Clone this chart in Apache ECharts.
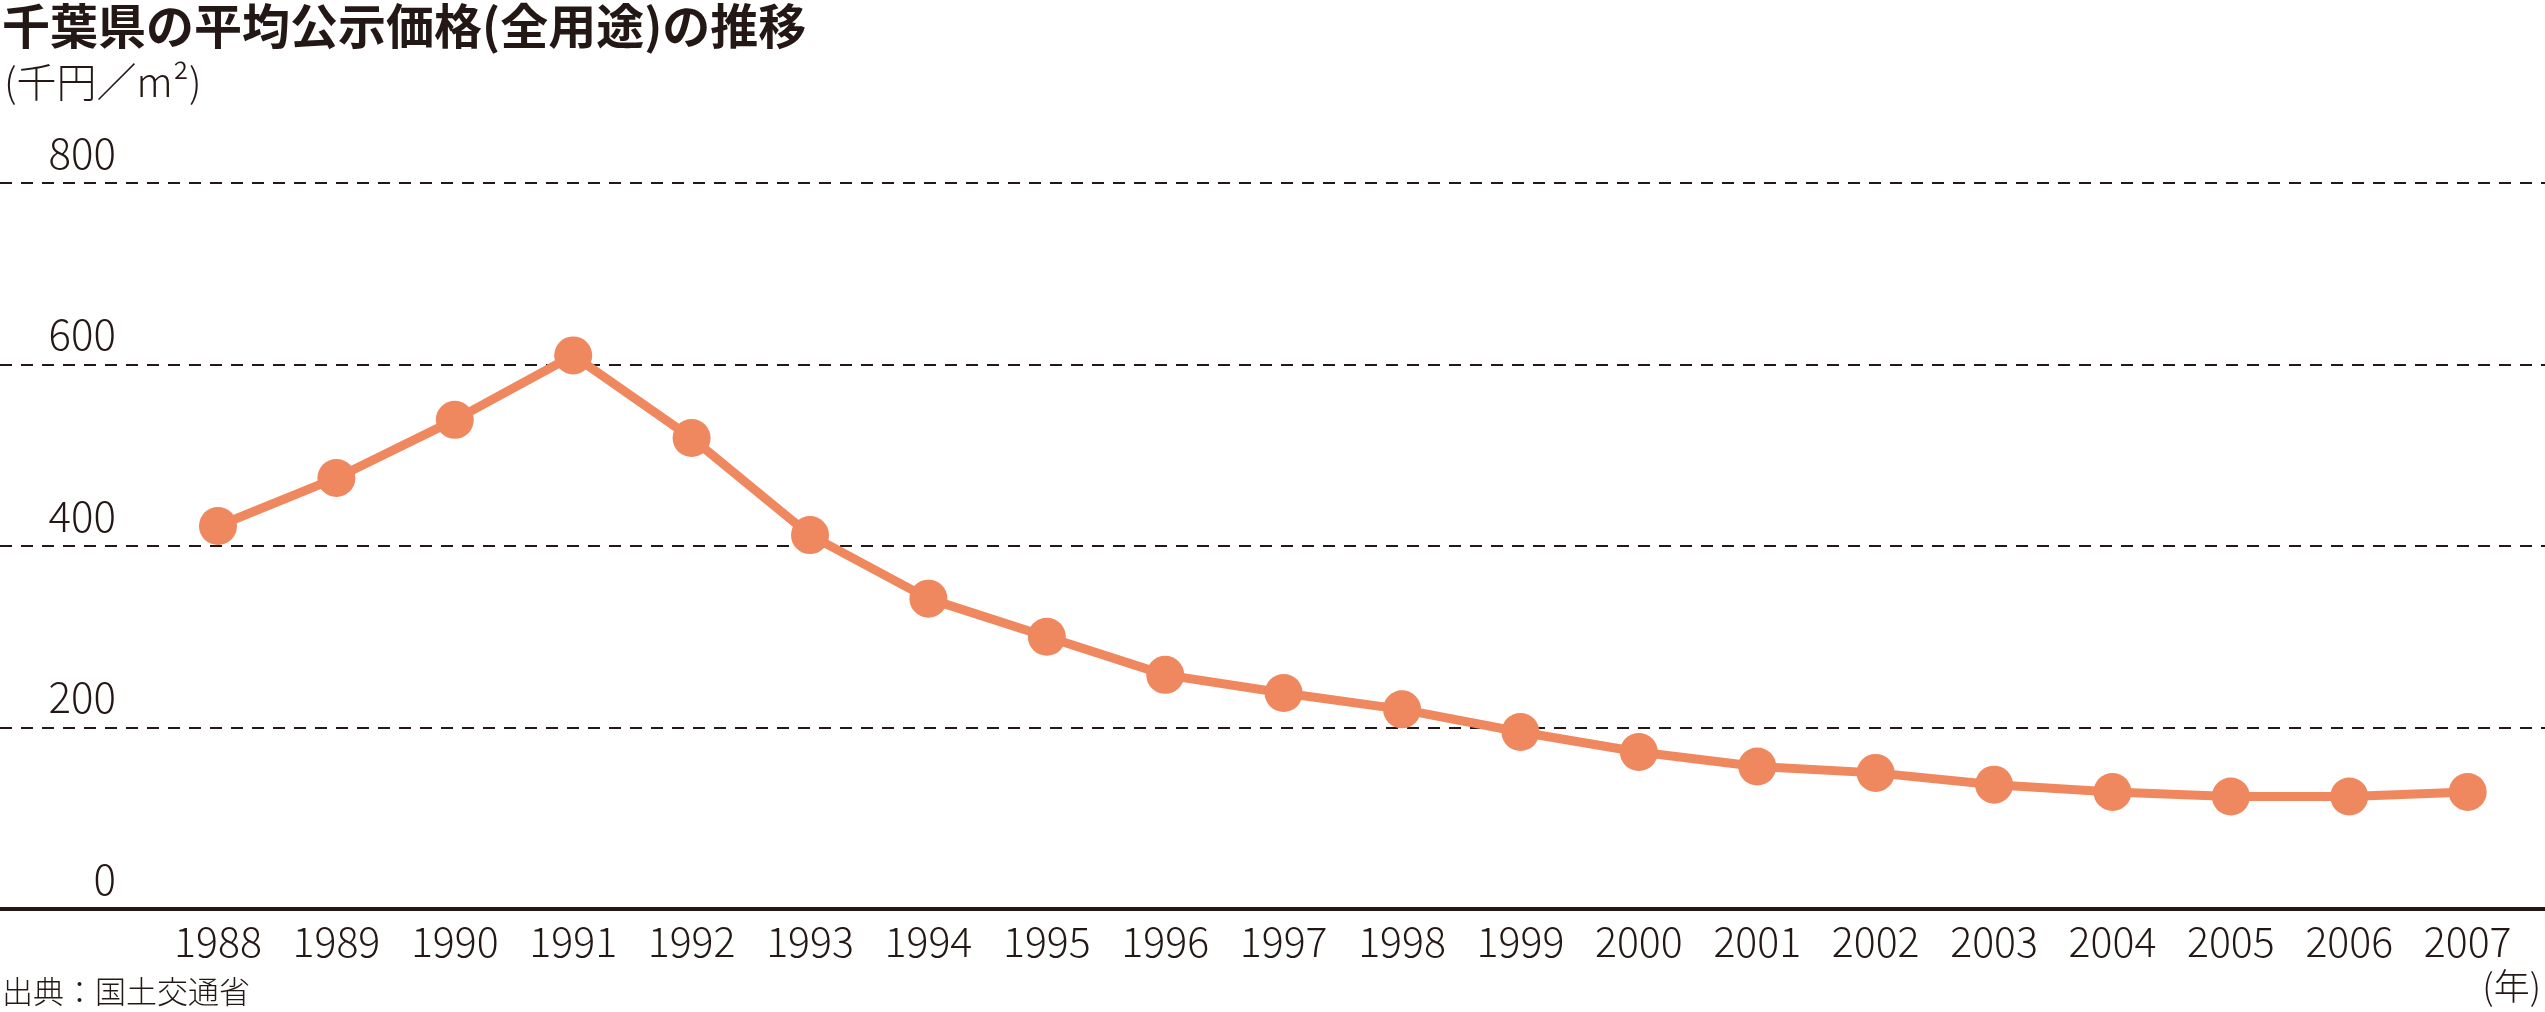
<!DOCTYPE html>
<html>
<head>
<meta charset="utf-8">
<script src="https://cdn.jsdelivr.net/npm/echarts@6/dist/echarts.min.js"></script>
<style>
html,body{margin:0;padding:0;background:#fff;}
#chart{width:2545px;height:1012px;}
</style>
</head>
<body>
<div id="chart"></div>
<script>
const years = [1988,1989,1990,1991,1992,1993,1994,1995,1996,1997,1998,1999,2000,2001,2002,2003,2004,2005,2006,2007];
const prices = [422,475,539,610,519,412,342,300,258,238,220,195,173,157,150,137,129,124,124,129];
const yTicks = [0,200,400,600,800];
const titleText = '千葉県の平均公示価格(全用途)の推移';
const unitText = '(千円／m²)';
const sourceText = '出典：国土交通省';
const xUnitText = '(年)';

const ink = '#231815';
const orange = '#EF875F';
const lightFont = '"Noto Sans CJK JP", sans-serif';
const chart = echarts.init(document.getElementById('chart'));
chart.setOption({
  backgroundColor: '#fff',
  animation: false,
  grid: {left: 0, right: 0, top: 183, bottom: 103},
  xAxis: {
    type: 'value',
    min: 1986.159,
    max: 2007.653,
    axisLine: {show: true, onZero: false, lineStyle: {color: ink, width: 4}},
    axisTick: {show: false},
    splitLine: {show: false},
    axisLabel: {
      customValues: years,
      margin: 12,
      color: ink,
      fontSize: 41,
      fontWeight: 300,
      fontFamily: lightFont,
      formatter: v => String(v)
    }
  },
  yAxis: {
    type: 'value',
    min: yTicks[0],
    max: yTicks[yTicks.length - 1],
    interval: 200,
    axisLine: {show: false},
    axisTick: {show: false},
    splitLine: {show: true, lineStyle: {color: ink, width: 2, type: [12, 9]}},
    axisLabel: {
      inside: true,
      align: 'right',
      verticalAlign: 'bottom',
      margin: 116,
      padding: [0, 0, 9, 0],
      color: ink,
      fontSize: 42,
      fontWeight: 300,
      fontFamily: lightFont
    }
  },
  series: [{
    type: 'line',
    data: years.map((y, i) => [y, prices[i]]),
    symbol: 'circle',
    symbolSize: 38,
    lineStyle: {color: orange, width: 9},
    itemStyle: {color: orange},
    z: 5
  }],
  graphic: [
    {type: 'text', left: 2, top: 2, style: {text: titleText, fontSize: 48, fontWeight: 'bold', fill: ink, fontFamily: lightFont}},
    {type: 'text', left: 4, top: 62, style: {text: unitText, fontSize: 40, fontWeight: 300, fill: ink, fontFamily: lightFont}},
    {type: 'text', left: 2, top: 976, style: {text: sourceText, fontSize: 31, fontWeight: 300, fill: ink, fontFamily: lightFont}},
    {type: 'text', right: 4, top: 968, style: {text: xUnitText, fontSize: 36, fontWeight: 300, fill: ink, fontFamily: lightFont}}
  ]
});
</script>
</body>
</html>
